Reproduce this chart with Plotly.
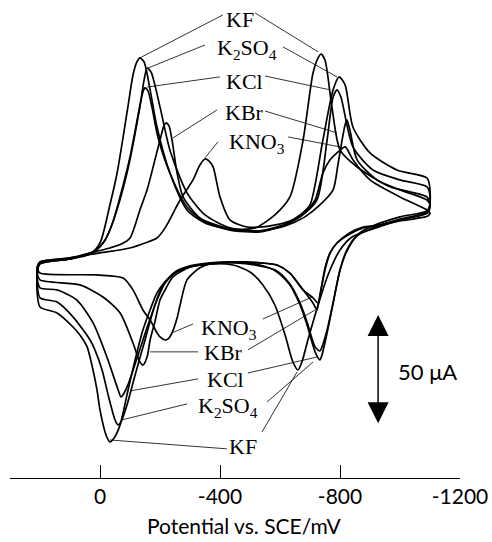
import plotly.graph_objects as go

# ---------------- data (potential in mV vs SCE, current in microampere) ----------------
kf_potential = [200, 100, 33, 0, -33, -57, -93, -110, -123, -133, -147, -167, -190, -233, -290, -350, -433, -517,
                -583, -633, -677, -710, -727, -737, -750, -773, -800, -857, -967, -1090,
                -1100, -1090, -1000, -900, -840, -800, -760, -727, -693, -673, -660, -643, -617, -583, -543, -500,
                -443, -367, -300, -250, -217, -190, -167, -143, -117, -90, -67, -47, -33, -20, 0, 10, 27, 43, 67, 90,
                143, 200, 210, 207, 200]
kf_current = [-8.3, -6.5, -4.2, 0.9, 18.5, 33.3, 63.9, 78.7, 84.7, 86.6, 84.7, 71.8, 54.6, 33.3, 16.2, 10.2, 7.4, 7.9,
              13.9, 22.2, 48.6, 79.6, 86.6, 88.4, 85.6, 63.9, 44.0, 36.1, 26.9, 22.2,
              18.5, 15.3, 11.6, 6.9, 3.7, -2.3, -13.9, -27.8, -44.0, -54.2, -57.9, -54.2, -41.7, -27.8, -18.5, -12.5,
              -9.3, -8.8, -10.2, -13.0, -17.1, -22.2, -30.1, -39.4, -53.2, -69.4, -83.3, -89.4, -91.2, -88.0, -76.4,
              -67.1, -55.6, -47.2, -41.7, -38.0, -31.5, -28.7, -20.8, -11.6, -8.3]

k2so4_potential = [200, 100, 17, -17, -43, -90, -133, -147, -157, -170, -200, -233, -290, -350, -433, -533, -617,
                   -667, -700, -743, -777, -797, -817, -843, -900, -990, -1090,
                   -1100, -1093, -1000, -900, -857, -823, -800, -777, -757, -740, -733, -717, -690, -667, -633, -590,
                   -533, -450, -367, -300, -250, -210, -183, -150, -117, -90, -70, -60, -50, -27, -7, 17, 33, 90, 143,
                   200, 210, 207, 200]
k2so4_current = [-7.9, -6.0, -2.8, 2.3, 10.6, 33.3, 63.9, 76.4, 81.9, 80.1, 63.9, 44.0, 24.1, 13.9, 7.9, 6.5, 9.7,
                 13.9, 18.5, 48.6, 71.8, 77.8, 74.1, 54.6, 42.6, 34.7, 31.0,
                 25.5, 16.2, 13.0, 8.3, 4.6, -2.3, -11.6, -26.9, -40.7, -50.9, -53.2, -49.5, -37.0, -27.8, -18.5,
                 -12.5, -9.3, -7.9, -8.3, -9.7, -12.5, -18.5, -27.8, -44.0, -60.2, -74.1, -81.9, -83.3, -81.0, -69.4,
                 -57.9, -48.6, -44.0, -33.3, -26.4, -24.5, -16.2, -9.7, -7.9]

kcl_potential = [200, 100, 17, -17, -43, -73, -100, -127, -143, -150, -160, -173, -193, -233, -290, -350, -433, -533,
                 -617, -667, -723, -757, -777, -790, -803, -843, -910, -1000, -1090,
                 -1100, -1093, -1000, -900, -857, -823, -800, -777, -757, -740, -733, -717, -690, -667, -633, -590,
                 -533, -450, -367, -300, -250, -217, -190, -160, -127, -93, -77, -70, -57, -23, 23, 77, 143, 200,
                 210, 200]
kcl_current = [-8.8, -6.5, -2.8, 2.3, 10.6, 25.5, 40.7, 60.2, 70.8, 72.7, 71.3, 63.9, 50.0, 33.3, 17.6, 10.6, 6.9, 6.0,
               9.3, 13.0, 20.8, 48.6, 68.5, 71.8, 68.5, 45.4, 34.7, 30.1, 26.9,
               22.7, 15.3, 12.0, 7.4, 4.2, -2.8, -11.6, -26.9, -39.4, -47.2, -49.1, -47.2, -35.6, -26.9, -18.1,
               -12.0, -9.7, -8.3, -8.8, -10.2, -13.0, -17.6, -25.5, -37.0, -50.9, -64.8, -69.4, -70.4, -65.7, -51.9,
               -36.1, -25.5, -20.8, -19.9, -13.9, -8.8]

kbr_potential = [200, 100, 17, -33, -73, -100, -133, -157, -183, -200, -213, -220, -230, -240, -257, -277, -333, -433,
                 -533, -617, -683, -733, -777, -793, -807, -817, -823, -833, -857, -923, -1000, -1090,
                 -1100, -1093, -1000, -917, -877, -833, -790, -767, -750, -733, -727, -723, -710, -677, -633, -590,
                 -533, -450, -367, -300, -243, -217, -200, -183, -167, -157, -143, -133, -110, -67, -10, 67, 200,
                 210, 200]
kbr_current = [-8.8, -6.5, -3.2, -1.4, 0.5, 3.2, 16.2, 25.5, 39.4, 48.6, 55.1, 56.5, 55.1, 48.6, 33.3, 22.2, 12.5, 7.4,
               6.5, 8.8, 13.0, 18.5, 25.5, 37.0, 48.6, 55.6, 57.9, 53.2, 39.4, 30.1, 25.5, 20.8,
               18.5, 14.8, 11.6, 8.8, 7.9, 5.1, 0.9, -3.7, -11.6, -23.1, -27.8, -30.1, -26.9, -20.8, -13.0, -9.3,
               -8.3, -7.9, -8.8, -10.2, -14.8, -20.8, -25.5, -35.6, -44.0, -51.9, -55.6, -54.2, -45.4, -31.5,
               -24.1, -18.5, -16.2, -12.5, -8.8]

kno3_potential = [200, 100, 0, -100, -150, -190, -217, -267, -310, -333, -350, -363, -377, -400, -433, -490, -567,
                  -633, -683, -717, -743, -767, -790, -817, -843, -900, -1000, -1090,
                  -1100, -1093, -1000, -917, -877, -833, -790, -767, -750, -737, -727, -710, -677, -633, -590, -533,
                  -450, -367, -333, -290, -267, -257, -240, -227, -217, -200, -190, -167, -143, -110, -77, 10, 200,
                  210, 200]
kno3_current = [-7.9, -6.0, -3.7, -1.4, 0.9, 3.2, 7.9, 20.8, 30.1, 37.0, 39.8, 38.9, 36.1, 22.2, 11.6, 8.3, 8.8,
                11.1, 14.8, 20.8, 33.3, 39.4, 42.6, 45.4, 39.4, 30.1, 22.2, 16.2,
                14.8, 13.4, 11.1, 8.8, 8.3, 5.6, 0.9, -3.7, -10.6, -20.8, -26.9, -24.5, -20.8, -13.0, -9.3, -8.3,
                -7.9, -8.8, -10.6, -16.2, -27.8, -33.8, -40.7, -43.5, -44.0, -42.6, -40.7, -34.7, -30.1, -20.8,
                -15.3, -13.9, -13.0, -10.6, -7.9]

tick_values = [0, -400, -800, -1200]
tick_labels = ["0", "-400", "-800", "-1200"]
scale_bar_uA = 50
x_title = "Potential vs. SCE/mV"

series = [
    ("KF", kf_potential, kf_current),
    ("K2SO4", k2so4_potential, k2so4_current),
    ("KCl", kcl_potential, kcl_current),
    ("KBr", kbr_potential, kbr_current),
    ("KNO3", kno3_potential, kno3_current),
]

fig = go.Figure()
for name, pot, cur in series:
    fig.add_trace(go.Scatter(
        x=pot, y=cur, mode="lines", name=name, showlegend=False,
        line=dict(color="black", width=1.7, shape="spline", smoothing=0.7),
        hoverinfo="skip",
    ))

SERIF = "Liberation Serif, Times New Roman, serif"
SANS = "Lato, Open Sans, sans-serif"

# label text positions and leader lines (mV, uA)
labels = [
    ("KF", -467, 104.2, [(-410, 106.5, -133, 86.6), (-517, 107.4, -727, 89.4)]),
    ("K<sub>2</sub>SO<sub>4</sub>", -490, 90.7, [(-350, 92.6, -160, 81.9), (-610, 91.7, -790, 77.8)]),
    ("KCl", -480, 75.5, [(-400, 77.8, -157, 73.1), (-550, 78.2, -767, 71.8)]),
    ("KBr", -483, 61.1, [(-390, 62.5, -243, 49.5), (-550, 62.0, -790, 51.9)]),
    ("KNO<sub>3</sub>", -523, 47.2, [(-393, 47.7, -350, 40.3), (-627, 50.0, -800, 45.4)]),
    ("KNO<sub>3</sub>", -430, -38.9, [(-310, -36.6, -240, -40.7), (-543, -34.3, -707, -24.1)]),
    ("KBr", -410, -50.0, [(-327, -49.5, -167, -49.5), (-493, -48.6, -717, -30.1)]),
    ("KCl", -417, -62.5, [(-327, -62.0, -100, -67.6), (-493, -59.3, -723, -51.9)]),
    ("K<sub>2</sub>SO<sub>4</sub>", -427, -75.0, [(-290, -73.6, -73, -81.0), (-557, -72.7, -710, -54.2)]),
    ("KF", -477, -93.5, [(-423, -94.4, -33, -90.3), (-540, -86.6, -657, -58.8)]),
]

shapes = []
annotations = []
for text, lx, ly, lines in labels:
    annotations.append(dict(x=lx, y=ly, xref="x", yref="y", text=text, showarrow=False,
                            font=dict(family=SERIF, size=22, color="black")))
    for x0, y0, x1, y1 in lines:
        shapes.append(dict(type="line", xref="x", yref="y", x0=x0, y0=y0, x1=x1, y1=y1,
                           line=dict(color="black", width=0.8)))

# scale bar (double arrow) and its label
annotations.append(dict(x=-927, y=-32.4, ax=-927, ay=-83.3, xref="x", yref="y", axref="x", ayref="y",
                        text="", showarrow=True, arrowhead=2, arrowside="end+start",
                        arrowsize=2.8, arrowwidth=1.5, arrowcolor="black"))
annotations.append(dict(x=-1093, y=-58.8, xref="x", yref="y", text=f"{scale_bar_uA} μA", showarrow=False,
                        font=dict(family=SANS, size=22, color="black")))

# axis title placed below the tick labels
annotations.append(dict(x=0.522, y=-0.099, xref="paper", yref="paper", text=x_title, showarrow=False,
                        xanchor="center", yanchor="middle", borderpad=0,
                        font=dict(family=SANS, size=21, color="black")))

fig.update_layout(
    width=492, height=542,
    margin=dict(l=10, r=32, t=0, b=64),
    paper_bgcolor="white", plot_bgcolor="white",
    shapes=shapes, annotations=annotations,
    hovermode=False,
    xaxis=dict(range=[300, -1200], showline=True, linecolor="black", linewidth=1,
               ticks="inside", ticklen=13, tickwidth=1, tickcolor="black",
               tickvals=tick_values, ticktext=tick_labels, showgrid=False, zeroline=False,
               automargin=False,
               tickfont=dict(family=SANS, size=21, color="black")),
    yaxis=dict(range=[-107.9, 113.4], visible=False, showgrid=False, zeroline=False),
)

fig.write_html("out.html", config={"displayModeBar": False},
               post_script="document.body.style.margin='0px';")
